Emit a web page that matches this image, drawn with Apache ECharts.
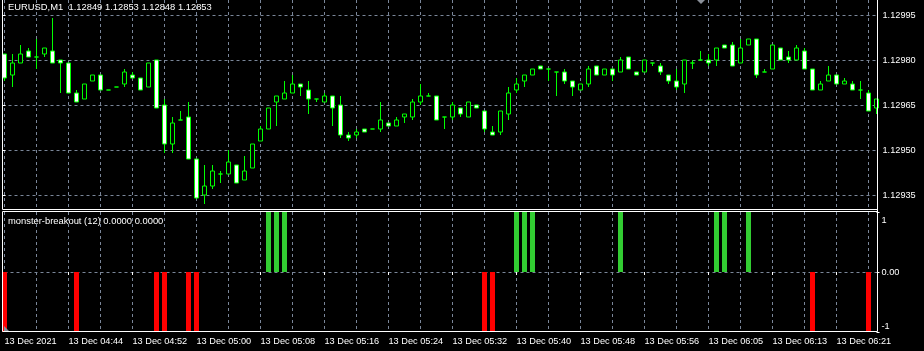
<!DOCTYPE html>
<html>
<head>
<meta charset="utf-8">
<script src="https://cdn.jsdelivr.net/npm/echarts@6/dist/echarts.min.js"></script>
<style>
html,body{margin:0;padding:0;background:#000;}
#chart{width:924px;height:351px;}
</style>
</head>
<body>
<div id="chart"></div>
<script>
// ---- data ----
const dateLabel = '13 Dec 2021';
const categories = [
'04:36','04:37','04:38','04:39','04:40','04:41','04:42','04:43','04:44','04:45',
'04:46','04:47','04:48','04:49','04:50','04:51','04:52','04:53','04:54','04:55',
'04:56','04:57','04:58','04:59','05:00','05:01','05:02','05:03','05:04','05:05',
'05:06','05:07','05:08','05:09','05:10','05:11','05:12','05:13','05:14','05:15',
'05:16','05:17','05:18','05:19','05:20','05:21','05:22','05:23','05:24','05:25',
'05:26','05:27','05:28','05:29','05:30','05:31','05:32','05:33','05:34','05:35',
'05:36','05:37','05:38','05:39','05:40','05:41','05:42','05:43','05:44','05:45',
'05:46','05:47','05:48','05:49','05:50','05:51','05:52','05:53','05:54','05:55',
'05:56','05:57','05:58','05:59','06:00','06:02','06:03','06:04','06:05','06:06',
'06:07','06:08','06:09','06:10','06:11','06:12','06:13','06:14','06:15','06:16',
'06:17','06:18','06:19','06:20','06:21','06:22','06:23','06:24','06:25','06:26'
];
const opens = [
1.12982,1.12975,1.12979,1.12983,1.12981,1.12982,1.12983,1.12980,1.12979,1.12969,
1.12967,1.12973,1.12975,1.12970,1.12971,1.12972,1.12975,1.12974,1.12971,1.12980,
1.12965,1.12952,1.12960,1.12961,1.12947,1.12935,1.12938,1.12942,1.12942,1.12945,
1.12940,1.12944,1.12953,1.12957,1.12966,1.12967,1.12969,1.12972,1.12970,1.12967,
1.12966,1.12968,1.12965,1.12955,1.12955,1.12957,1.12957,1.12957,1.12959,1.12958,
1.12961,1.12961,1.12966,1.12968,1.12968,1.12961,1.12961,1.12964,1.12961,1.12965,
1.12963,1.12956,1.12956,1.12962,1.12970,1.12973,1.12975,1.12978,1.12977,1.12976,
1.12976,1.12973,1.12970,1.12972,1.12978,1.12975,1.12977,1.12976,1.12981,1.12976,
1.12976,1.12979,1.12978,1.12975,1.12973,1.12972,1.12979,1.12980,1.12980,1.12980,
1.12985,1.12985,1.12979,1.12985,1.12987,1.12976,1.12977,1.12984,1.12981,1.12980,
1.12983,1.12977,1.12970,1.12973,1.12975,1.12972,1.12972,1.12970,1.12969,1.12964
];
const closes = [
1.12974,1.12979,1.12982,1.12981,1.12981,1.12984,1.12979,1.12979,1.12969,1.12966,
1.12972,1.12975,1.12970,1.12970,1.12971,1.12976,1.12974,1.12970,1.12979,1.12964,
1.12952,1.12959,1.12960,1.12947,1.12934,1.12938,1.12943,1.12942,1.12946,1.12939,
1.12943,1.12952,1.12957,1.12964,1.12968,1.12969,1.12972,1.12971,1.12967,1.12967,
1.12968,1.12964,1.12955,1.12954,1.12956,1.12956,1.12957,1.12960,1.12958,1.12960,
1.12962,1.12966,1.12968,1.12968,1.12960,1.12961,1.12965,1.12962,1.12966,1.12964,
1.12957,1.12955,1.12963,1.12969,1.12972,1.12975,1.12977,1.12977,1.12977,1.12976,
1.12973,1.12971,1.12972,1.12977,1.12975,1.12977,1.12975,1.12980,1.12977,1.12975,
1.12980,1.12979,1.12976,1.12973,1.12971,1.12980,1.12979,1.12980,1.12979,1.12984,
1.12984,1.12978,1.12984,1.12987,1.12975,1.12976,1.12985,1.12980,1.12980,1.12984,
1.12977,1.12970,1.12972,1.12975,1.12972,1.12973,1.12970,1.12970,1.12963,1.12967
];
const lows = [
1.12973,1.12971,1.12979,1.12981,1.12977,1.12981,1.12979,1.12969,1.12969,1.12966,
1.12967,1.12973,1.12970,1.12970,1.12971,1.12971,1.12974,1.12970,1.12971,1.12964,
1.12949,1.12949,1.12960,1.12947,1.12934,1.12932,1.12937,1.12939,1.12942,1.12939,
1.12940,1.12944,1.12953,1.12957,1.12958,1.12967,1.12969,1.12968,1.12962,1.12966,
1.12966,1.12958,1.12954,1.12953,1.12954,1.12956,1.12957,1.12956,1.12958,1.12958,
1.12959,1.12960,1.12965,1.12968,1.12960,1.12957,1.12960,1.12961,1.12961,1.12964,
1.12956,1.12955,1.12955,1.12960,1.12969,1.12971,1.12975,1.12977,1.12973,1.12968,
1.12972,1.12968,1.12970,1.12971,1.12975,1.12975,1.12973,1.12976,1.12977,1.12975,
1.12976,1.12978,1.12975,1.12972,1.12970,1.12969,1.12977,1.12980,1.12978,1.12978,
1.12984,1.12978,1.12979,1.12985,1.12974,1.12976,1.12977,1.12980,1.12979,1.12980,
1.12977,1.12970,1.12970,1.12973,1.12972,1.12972,1.12970,1.12967,1.12963,1.12962
];
const highs = [
1.12982,1.12982,1.12985,1.12984,1.12987,1.12984,1.12994,1.12980,1.12979,1.12970,
1.12972,1.12975,1.12975,1.12970,1.12971,1.12977,1.12976,1.12974,1.12979,1.12980,
1.12967,1.12961,1.12963,1.12966,1.12947,1.12945,1.12945,1.12943,1.12950,1.12945,
1.12948,1.12952,1.12958,1.12964,1.12968,1.12973,1.12975,1.12972,1.12973,1.12967,
1.12969,1.12968,1.12968,1.12956,1.12957,1.12957,1.12957,1.12966,1.12959,1.12961,
1.12962,1.12967,1.12972,1.12969,1.12968,1.12961,1.12966,1.12964,1.12966,1.12965,
1.12963,1.12958,1.12963,1.12971,1.12974,1.12975,1.12977,1.12978,1.12977,1.12976,
1.12977,1.12973,1.12972,1.12978,1.12978,1.12977,1.12977,1.12981,1.12981,1.12976,
1.12980,1.12979,1.12979,1.12975,1.12977,1.12980,1.12980,1.12983,1.12982,1.12984,
1.12985,1.12986,1.12987,1.12987,1.12987,1.12977,1.12985,1.12984,1.12983,1.12985,
1.12984,1.12977,1.12973,1.12978,1.12975,1.12974,1.12973,1.12973,1.12970,1.12967
];
// indicator: bars with +1 (breakout up) and -1 (breakout down)
const upSignalBars = [33,34,35,64,65,66,77,89,90,93];
const downSignalBars = [0,9,19,20,23,24,60,61,101,108];
const priceTicks = {min: 1.12935, max: 1.12995, step: 0.00015};
const priceRange = {min: 1.12930, max: 1.13000};
const headerText = 'EURUSD,M1  1.12849 1.12853 1.12848 1.12853';
const indicatorText = 'monster-breakout (12) 0.0000 0.0000';

// ---- build ----
const candleData = categories.map((c, i) => [opens[i], closes[i], lows[i], highs[i]]);
const upData = categories.map((c, i) => upSignalBars.includes(i) ? 1 : '-');
const downData = categories.map((c, i) => downSignalBars.includes(i) ? -1 : '-');

const GRIDC = '#7a8699';
const FONT = 'Liberation Sans';
const dashed = {color: GRIDC, type: [3, 3], width: 1};

const chart = echarts.init(document.getElementById('chart'), null, {renderer: 'canvas'});
const white = '#ffffff';
function line(x1, y1, x2, y2) {
  return {type: 'line', z: 100, silent: true,
    shape: {x1, y1, x2, y2}, style: {stroke: white, lineWidth: 1}};
}
chart.setOption({
  backgroundColor: '#000000',
  animation: false,
  grid: [
    {left: 4.5, top: 0, width: 872, height: 210},
    {left: 2.5, top: 15, width: 875, height: 180},
    {left: 4.5, top: 212, width: 872, height: 120}
  ],
  xAxis: [
    {gridIndex: 0, type: 'category', data: categories, boundaryGap: false,
      axisLine: {show: false}, axisTick: {show: false}, axisLabel: {show: false},
      splitLine: {show: true, interval: 3, lineStyle: dashed}},
    {gridIndex: 1, type: 'value', show: false},
    {gridIndex: 2, type: 'category', data: categories, boundaryGap: false,
      axisLine: {show: false},
      axisTick: {show: true, interval: 7, length: 3, lineStyle: {color: white}},
      axisLabel: {show: true, interval: 7, align: 'left', color: white, fontSize: 9.2,
        fontFamily: FONT, margin: 5,
        formatter: (v, i) => i === 0 ? dateLabel : '13 Dec ' + v},
      splitLine: {show: true, interval: 3, lineStyle: dashed}}
  ],
  yAxis: [
    {gridIndex: 0, type: 'value', min: priceRange.min, max: priceRange.max, show: false},
    {gridIndex: 1, type: 'value', position: 'right',
      min: priceTicks.min, max: priceTicks.max, interval: priceTicks.step,
      axisLine: {show: false},
      axisTick: {show: true, length: 3, lineStyle: {color: white}},
      axisLabel: {color: white, fontSize: 9.2, fontFamily: FONT, margin: 5,
        formatter: v => v.toFixed(5)},
      splitLine: {show: true, lineStyle: dashed}},
    {gridIndex: 2, type: 'value', position: 'right', min: -1, max: 1, interval: 1,
      axisLine: {show: false},
      axisTick: {show: true, length: 3, lineStyle: {color: white}},
      axisLabel: {color: white, fontSize: 9.2, fontFamily: FONT, margin: 5,
        verticalAlignMaxLabel: 'top', verticalAlignMinLabel: 'bottom',
        formatter: v => v === 0 ? '0.00' : (v > 0 ? '{t|' + v + '}' : '{b|' + v + '}'),
        rich: {t: {padding: [4, 0, 0, 0], color: white, fontSize: 9.2, fontFamily: FONT},
               b: {padding: [0, 0, 1, 0], color: white, fontSize: 9.2, fontFamily: FONT}}},
      splitLine: {show: true, showMinLine: false, showMaxLine: false, lineStyle: dashed}}
  ],
  series: [
    {type: 'candlestick', xAxisIndex: 0, yAxisIndex: 0, data: candleData,
      barWidth: 4, clip: true, silent: true,
      itemStyle: {color: '#000000', color0: '#ffffff', borderColor: '#00ff00',
        borderColor0: '#00ff00', borderColorDoji: '#00ff00', borderWidth: 1}},
    {type: 'bar', xAxisIndex: 2, yAxisIndex: 2, data: upData, barWidth: 5,
      barGap: '-100%', silent: true, itemStyle: {color: '#32cd32'}},
    {type: 'bar', xAxisIndex: 2, yAxisIndex: 2, data: downData, barWidth: 5,
      barGap: '-100%', silent: true, itemStyle: {color: '#ff0000'}}
  ],
  graphic: [
    line(2.5, 0, 2.5, 209.5),
    line(2.5, 209.5, 877.5, 209.5),
    line(2.5, 211.5, 877.5, 211.5),
    line(2.5, 211.5, 2.5, 331.5),
    line(2.5, 331.5, 877.5, 331.5),
    line(877.5, 0, 877.5, 331.5),
    {type: 'polygon', z: 100, silent: true,
      shape: {points: [[697, 0], [705, 0], [701, 4]]}, style: {fill: '#8a9099'}},
    {type: 'polygon', z: 100, silent: true,
      shape: {points: [[4, 326], [4, 331], [9, 331]]}, style: {fill: '#8a9099'}},
    {type: 'text', z: 100, silent: true, x: 8, y: 7.5,
      style: {text: headerText, fill: white, font: '9.4px "' + FONT + '"', verticalAlign: 'middle'}},
    {type: 'text', z: 100, silent: true, x: 8, y: 221,
      style: {text: indicatorText, fill: white, font: '9.4px "' + FONT + '"', verticalAlign: 'middle'}}
  ]
});
</script>
</body>
</html>
